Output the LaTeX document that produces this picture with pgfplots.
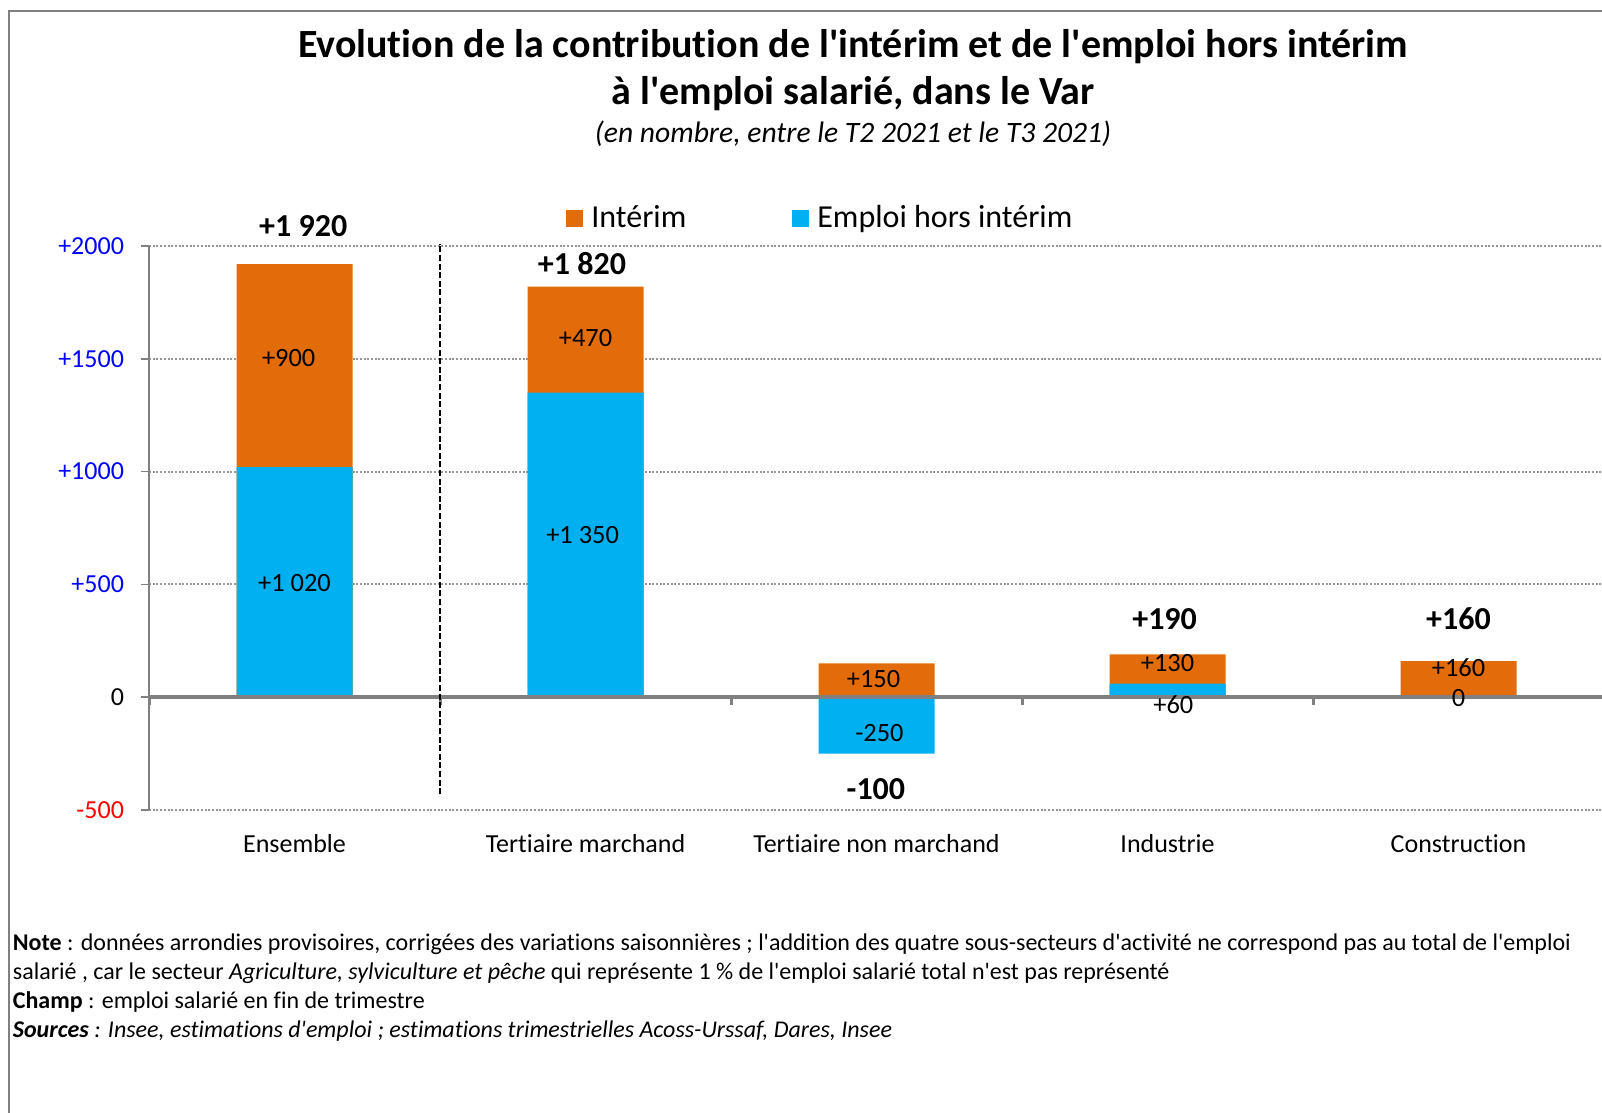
\documentclass[border=0pt]{standalone}
\usepackage{pgfplots}
\pgfplotsset{compat=1.18}
\usepackage{pgfplotstable}
\usepackage{fontspec}
\setmainfont{Carlito}[Ligatures={TeXOff,CommonOff}]
\definecolor{orng}{RGB}{227,108,10}
\definecolor{cyanb}{RGB}{0,176,240}
\definecolor{frm}{RGB}{128,128,128}
\definecolor{gridc}{RGB}{150,150,150}
\definecolor{tickblue}{RGB}{0,0,255}
\definecolor{tickred}{RGB}{255,0,0}

\pgfplotstableread{
x interim emploi
0 900 1020
1 470 1350
2 150 -250
3 130 60
4 160 0
}\datatab

\begin{document}
\begin{tikzpicture}
\useasboundingbox (0,0) rectangle (801pt,-556.5pt);
\begin{scope}[x=0.5pt,y=-0.5pt]
\draw[frm, line width=1pt] (9,1113) -- (9,11) -- (1602,11);
\node[anchor=base, inner sep=0pt, font=\fontsize{20}{24}\selectfont\bfseries] at (853,58) {Evolution de la contribution de l'intérim et de l'emploi hors intérim};
\node[anchor=base, inner sep=0pt, font=\fontsize{20}{24}\selectfont\bfseries] at (853,105) {à l'emploi salarié, dans le Var};
\node[anchor=base, inner sep=0pt, font=\fontsize{14.8}{17}\selectfont\itshape] at (853,143) {(en nombre, entre le T2 2021 et le T3 2021)};
\begin{scope}[every node/.style={anchor=base west, inner sep=0pt, font=\fontsize{12}{14}\selectfont}]
\node at (12.5,950) {\textbf{Note} : données arrondies provisoires, corrigées des variations saisonnières ; l'addition des quatre sous-secteurs d'activité ne correspond pas au total de l'emploi};
\node at (12.5,979) {salarié , car le secteur \textit{Agriculture, sylviculture et pêche} qui représente 1 \% de l'emploi salarié total n'est pas représenté};
\node at (12.5,1008) {\textbf{Champ} : emploi salarié en fin de trimestre};
\node at (12.5,1037) {\textbf{\textit{Sources}}\textit{ : Insee, estimations d'emploi ; estimations trimestrielles Acoss-Urssaf, Dares, Insee}};
\end{scope}
\end{scope}

\begin{axis}[
  at={(74.5pt,-405pt)}, anchor=south west,
  scale only axis, width=726.5pt, height=282pt,
  xmin=-0.5, xmax=4.493, ymin=-500, ymax=2000,
  clip=false,
  axis x line*=bottom, axis y line*=left,
  x axis line style={draw=none},
  y axis line style={frm, line width=0.75pt},
  xtick={0,1,2,3,4},
  xticklabels={Ensemble, Tertiaire marchand, Tertiaire non marchand, Industrie, Construction},
  x tick style={draw=none},
  xticklabel style={yshift=-4.6pt},
  ytick={-500,0,500,1000,1500,2000},
  yticklabels={\textcolor{tickred}{-500}, 0, \textcolor{tickblue}{+500}, \textcolor{tickblue}{+1000}, \textcolor{tickblue}{+1500}, \textcolor{tickblue}{+2000}},
  yticklabel style={xshift=-5pt},
  y tick style={frm, line width=0.75pt},
  tick align=outside, major tick length=4pt,
  ticklabel style={font=\fontsize{13}{16}\selectfont},
  ymajorgrids,
  grid style={gridc, line width=1pt, dash pattern=on 1pt off 0.85pt},
  legend style={at={(axis description cs:0.287,1.0496)}, anchor=west, draw=none, fill=none,
    legend columns=2, font=\fontsize{16}{19}\selectfont, inner sep=0pt,
    nodes={inner xsep=1pt, inner ysep=0pt},
    /tikz/every odd column/.append style={column sep=3pt},
    /tikz/every even column/.append style={column sep=52pt}},
  legend image code/.code={\fill[#1] (0pt,-4.25pt) rectangle (8.5pt,4.25pt);},
]
\addplot[ybar, bar width=58pt, bar shift=0pt, fill=orng, draw=none]
  table[x=x, y expr={\thisrow{interim}+max(\thisrow{emploi},0)}] {\datatab};
\addlegendentry{Intérim}
\addplot[ybar, bar width=58pt, bar shift=0pt, fill=cyanb, draw=none]
  table[x=x, y=emploi] {\datatab};
\addlegendentry{Emploi hors intérim}

\draw[frm, line width=1.75pt] (axis cs:-0.5,0) -- (axis cs:4.493,0);
\pgfplotsinvokeforeach{-0.5,0.5,1.5,2.5,3.5}{\draw[frm, line width=1.5pt] (axis cs:#1,0) -- ([yshift=-4pt]axis cs:#1,0);}
\draw[black, line width=1.4pt, dash pattern=on 3pt off 1.3pt] (axis cs:0.5,-430) -- (axis cs:0.5,2010);

\begin{scope}[every node/.style={font=\fontsize{13.2}{16}\selectfont}]
\node at (axis cs:-0.02,1505) {+900};
\node at (axis cs:0,508) {+1 020};
\node at (axis cs:1.0,1592) {+470};
\node at (axis cs:0.99,718) {+1 350};
\node at (axis cs:1.99,82) {+150};
\node at (axis cs:2.01,-158) {-250};
\node at (axis cs:3.0,151) {+130};
\node at (axis cs:3.02,-35) {+60};
\node at (axis cs:4.0,129) {+160};
\node at (axis cs:4.0,-4) {0};
\end{scope}
\begin{scope}[every node/.style={font=\fontsize{16}{19}\selectfont\bfseries}]
\node at (axis cs:0.03,2089) {+1 920};
\node at (axis cs:0.988,1920) {+1 820};
\node at (axis cs:1.998,-408) {-100};
\node at (axis cs:2.99,346) {+190};
\node at (axis cs:4.0,346) {+160};
\end{scope}
\end{axis}
\end{tikzpicture}
\end{document}
